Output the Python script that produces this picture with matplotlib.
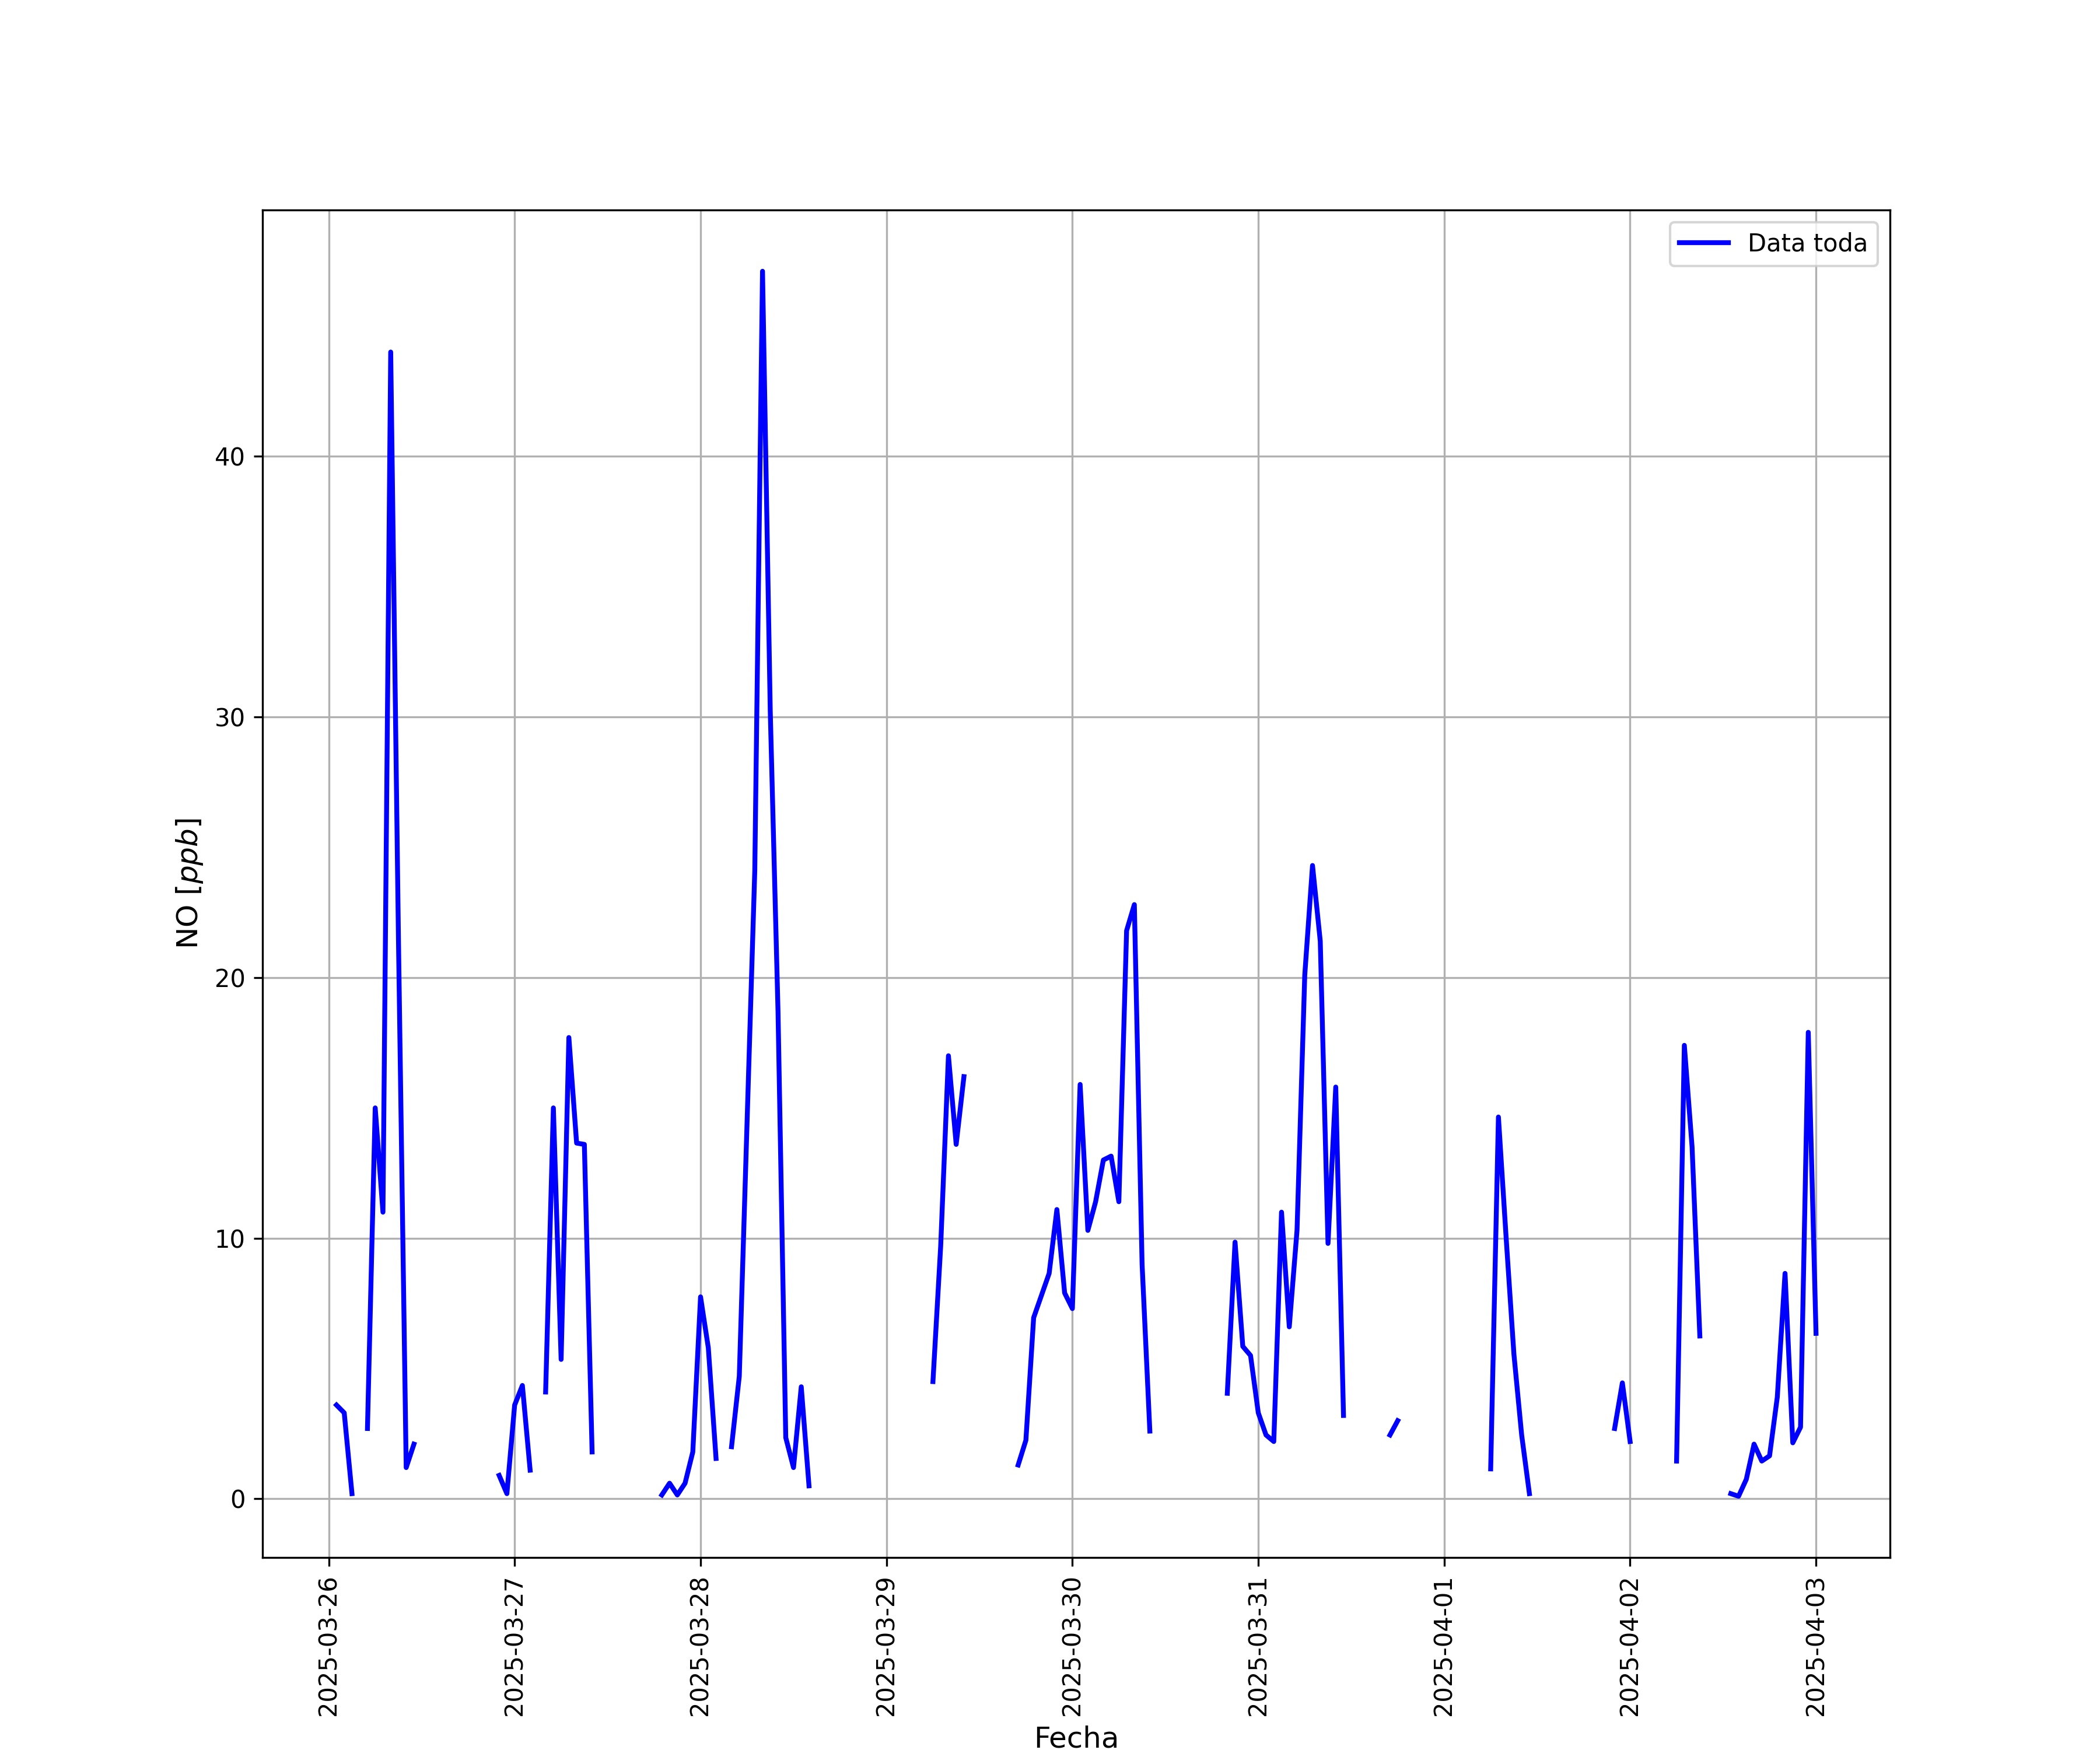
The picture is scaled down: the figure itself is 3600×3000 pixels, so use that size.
import pandas as pd
import numpy as np
import matplotlib
matplotlib.use("Agg")
import matplotlib.pyplot as plt

# Hourly NO readings, stored as contiguous runs (gaps between runs are missing data)
seg_starts = [
    "2025-03-26 01:00", "2025-03-26 05:00", "2025-03-26 22:00", "2025-03-27 04:00",
    "2025-03-27 19:00", "2025-03-28 04:00", "2025-03-29 06:00", "2025-03-29 17:00",
    "2025-03-30 20:00", "2025-03-31 17:00", "2025-04-01 06:00", "2025-04-01 22:00",
    "2025-04-02 06:00", "2025-04-02 13:00",
]
seg_values = [
    [3.6, 3.3, 0.2],
    [2.7, 15.0, 11.0, 44.0, 21.5, 1.2, 2.1],
    [0.9, 0.2, 3.6, 4.35, 1.1],
    [4.1, 15.0, 5.35, 17.7, 13.65, 13.6, 1.8],
    [0.15, 0.6, 0.15, 0.6, 1.8, 7.75, 5.8, 1.55],
    [2.0, 4.7, 14.4, 24.1, 47.1, 30.2, 18.7, 2.35, 1.2, 4.3, 0.5],
    [4.5, 9.7, 17.0, 13.6, 16.2],
    [1.3, 2.25, 6.95, 7.8, 8.65, 11.1, 7.9, 7.3, 15.9, 10.3, 11.4, 13.0,
     13.15, 11.4, 21.8, 22.8, 9.0, 2.6],
    [4.05, 9.85, 5.85, 5.5, 3.3, 2.45, 2.2, 11.0, 6.6, 10.3, 20.1, 24.3,
     21.4, 9.8, 15.8, 3.2],
    [2.45, 3.0],
    [1.15, 14.65, 10.0, 5.55, 2.45, 0.2],
    [2.7, 4.45, 2.2],
    [1.45, 17.4, 13.5, 6.25],
    [0.2, 0.1, 0.75, 2.1, 1.45, 1.65, 3.9, 8.65, 2.15, 2.75, 17.9, 6.35],
]

# Build one hourly series with NaN in the gaps
parts = []
for start, vals in zip(seg_starts, seg_values):
    idx = pd.date_range(start, periods=len(vals), freq="h")
    parts.append(pd.Series(vals, index=idx))
s = pd.concat(parts)
full_idx = pd.date_range(s.index.min(), s.index.max(), freq="h")
s = s.reindex(full_idx)

fig = plt.figure(figsize=(12, 10), dpi=300)
plt.plot(s.index, s.values, color="blue", linewidth=2, label="Data toda")
plt.xlabel("Fecha", fontsize=12)
plt.ylabel("NO [$ppb$]", fontsize=12)
plt.xticks(rotation=90)
plt.grid(True)
plt.legend(loc="upper right")

plt.savefig("out.png", dpi=300)
